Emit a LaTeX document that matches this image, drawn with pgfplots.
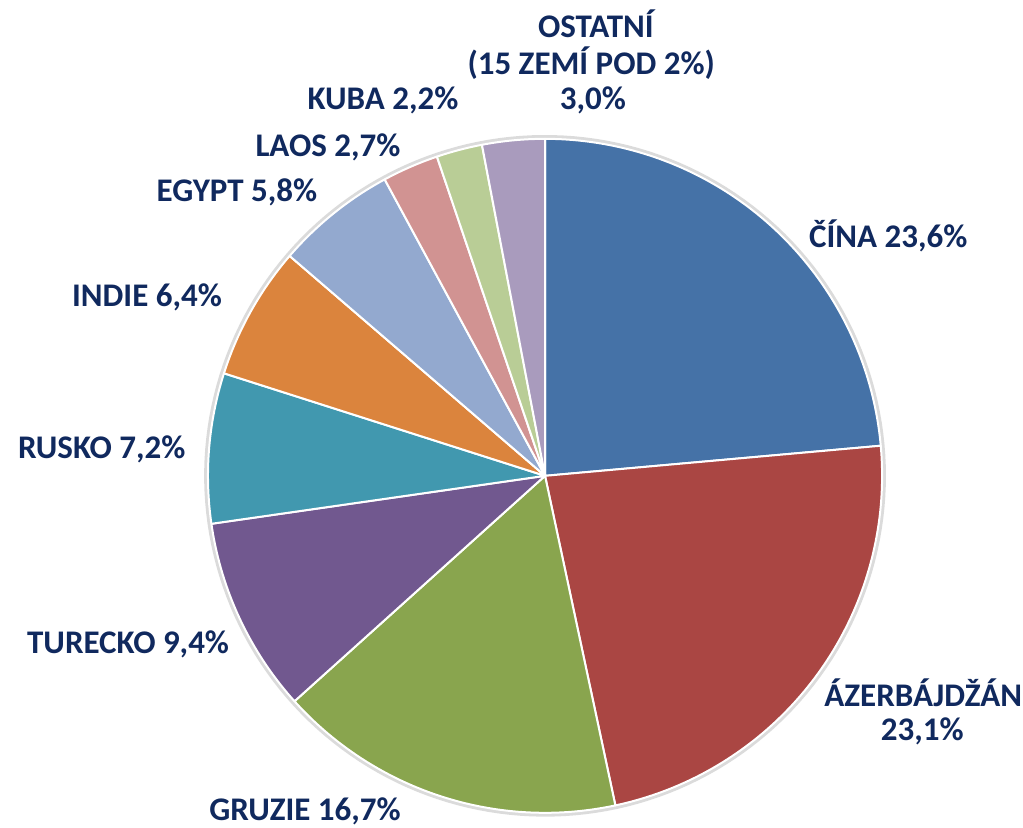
\documentclass[border=0pt]{standalone}
\usepackage{fontspec}
\setmainfont{Carlito}
\usepackage{pgfplots}
\usepackage{pgfplotstable}
\pgfplotsset{compat=1.18}
\definecolor{cCina}{HTML}{4572A7}
\definecolor{cAzer}{HTML}{AA4643}
\definecolor{cGruz}{HTML}{89A54E}
\definecolor{cTure}{HTML}{71588F}
\definecolor{cRusk}{HTML}{4198AF}
\definecolor{cIndi}{HTML}{DB843D}
\definecolor{cEgyp}{HTML}{93A9CF}
\definecolor{cLaos}{HTML}{D19392}
\definecolor{cKuba}{HTML}{B9CD96}
\definecolor{cOsta}{HTML}{A99BBD}
\definecolor{navy}{HTML}{10295E}
\tikzset{lbl/.style={font=\fontsize{16.5}{20}\selectfont\bfseries, text=navy, inner sep=0pt}}
\pgfplotstableread[col sep=comma]{
name,value,color
Cina,23.6,cCina
Azerbajdzan,23.1,cAzer
Gruzie,16.7,cGruz
Turecko,9.4,cTure
Rusko,7.2,cRusk
Indie,6.4,cIndi
Egypt,5.8,cEgyp
Laos,2.7,cLaos
Kuba,2.2,cKuba
Ostatni,3.0,cOsta
}\piedata
\begin{document}
\begin{tikzpicture}
\begin{axis}[
  scale only axis, width=511.5pt, height=414pt,
  xmin=-1.617, xmax=1.418, ymin=-1.045, ymax=1.412,
  hide axis, clip=false,
]
\path (rel axis cs:0,0) rectangle (rel axis cs:1,1);
% soft shadow ring
\addplot[draw=black!14, line width=2.5pt, domain=0:360, samples=200, variable=\t] ({1.004*cos(t)},{1.004*sin(t)});
\def\total{0}
\pgfplotsforeachungrouped \i in {0,...,9}{%
  \pgfplotstablegetelem{\i}{value}\of\piedata
  \pgfmathsetmacro\total{\total+\pgfplotsretval}%
}
\def\cumul{0}
\pgfplotsforeachungrouped \i in {0,...,9}{%
  \pgfplotstablegetelem{\i}{value}\of\piedata \let\v\pgfplotsretval
  \pgfplotstablegetelem{\i}{color}\of\piedata \let\c\pgfplotsretval
  \pgfmathsetmacro\aStart{90-\cumul/\total*360}%
  \pgfmathsetmacro\cumul{\cumul+\v}%
  \pgfmathsetmacro\aEnd{90-\cumul/\total*360}%
  \edef\temp{\noexpand\addplot[fill=\c, draw=white, line width=1pt, line join=round, domain=\aEnd:\aStart, samples=90, variable=\noexpand\t] ({cos(\noexpand\t)},{sin(\noexpand\t)}) -- (axis cs:0,0) -- cycle;}%
  \temp
}
\node[lbl] at (axis cs:1.018,0.712) {ČÍNA 23,6\%};
\node[lbl] at (axis cs:1.122,-0.644) {ÁZERBÁJDŽÁN};
\node[lbl] at (axis cs:1.119,-0.757) {23,1\%};
\node[lbl] at (axis cs:-0.712,-0.997) {GRUZIE 16,7\%};
\node[lbl] at (axis cs:-1.237,-0.499) {TURECKO 9,4\%};
\node[lbl] at (axis cs:-1.315,0.080) {RUSKO 7,2\%};
\node[lbl] at (axis cs:-1.181,0.531) {INDIE 6,4\%};
\node[lbl] at (axis cs:-0.914,0.840) {EGYPT 5,8\%};
\node[lbl] at (axis cs:-0.644,0.976) {LAOS 2,7\%};
\node[lbl] at (axis cs:-0.481,1.113) {KUBA 2,2\%};
\node[lbl] at (axis cs:0.151,1.341) {OSTATNÍ};
\node[lbl] at (axis cs:0.137,1.226) {(15 ZEMÍ POD 2\%)};
\node[lbl] at (axis cs:0.142,1.113) {3,0\%};
\end{axis}
\end{tikzpicture}
\end{document}
